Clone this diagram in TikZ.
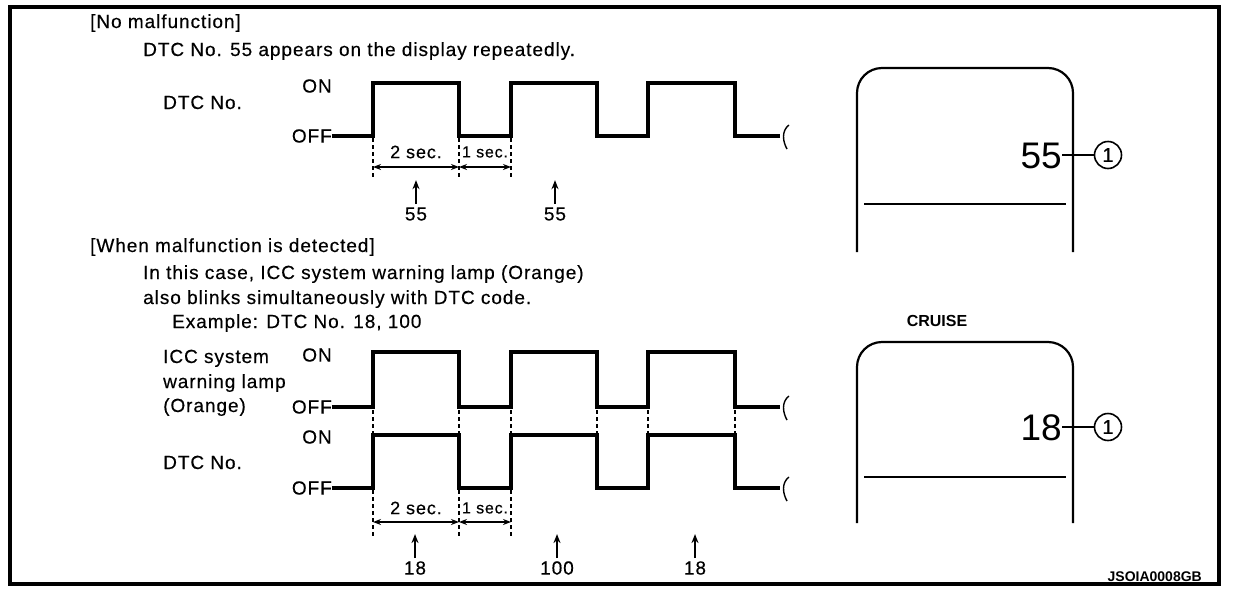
\documentclass[tikz,border=0pt]{standalone}
\usepackage{fontspec}
\setmainfont{Liberation Sans}
\newfontfamily\wsp[LetterSpace=5,FakeBold=0.4]{Liberation Sans}
\usetikzlibrary{arrows.meta}
\begin{document}
\begin{tikzpicture}[x=1pt,y=-1pt,
  wave/.style={line width=3.5pt, line join=miter},
  thinl/.style={line width=1.4pt},
  dsh/.style={line width=1.4pt, dash pattern=on 4pt off 3pt},
  dim/.style={line width=1.6pt, {Stealth[length=8pt,width=6pt]}-{Stealth[length=8pt,width=6pt]}},
  uparrow/.style={line width=1.7pt, -{Stealth[length=9pt,width=7pt]}},
  txt/.style={font=\wsp\fontsize{19}{22}\selectfont, inner sep=0pt, anchor=base west},
  lvl/.style={font=\wsp\fontsize{19}{22}\selectfont, inner sep=0pt},
  sec/.style={font=\wsp\fontsize{18}{20}\selectfont, inner sep=0pt},
  big/.style={font=\fontsize{37}{40}\selectfont, inner sep=0pt, anchor=east},
  callout/.style={circle, draw, line width=1.6pt, minimum size=27pt, inner sep=0pt, font=\wsp\fontsize{20}{20}\selectfont},
  screen/.style={line width=2.2pt, rounded corners=25pt},
  squig/.style={line width=1.4pt}
]
\useasboundingbox (0,0) rectangle (1248,592);
\draw[line width=4.5pt] (10,7) rectangle (1219,584);

% ---------- texts ----------
\node[txt] (t1) at (90,28) {[No malfunction]};
\node[txt] (t2) at (143,56) {DTC No. 55 appears on the display repeatedly.};
\node[txt] (t3) at (163,109) {DTC No.};
\node[txt] (t4) at (90,252) {[When malfunction is detected]};
\node[txt] (t5) at (143,279) {In this case, ICC system warning lamp (Orange)};
\node[txt] (t6) at (143,304) {also blinks simultaneously with DTC code.};
\node[txt] (t7) at (172,328) {Example: DTC No. 18, 100};
\node[txt] (t8) at (163,363) {ICC system};
\node[txt] (t9) at (163,388) {warning lamp};
\node[txt] (t10) at (163,412) {(Orange)};
\node[txt] (t11) at (163,469) {DTC No.};

% ---------- waveform 1 ----------
\node[lvl] (on1) at (317,86) {ON};
\node[lvl, anchor=east] (off1) at (332,136) {OFF};
\draw[wave] (off1.east) -- (373,136) -- (373,83) -- (459,83) -- (459,136) -- (511,136) -- (511,83) -- (597,83) -- (597,136) -- (648,136) -- (648,83) -- (735,83) -- (735,136) -- (780,136);
\draw[squig] (789,125) .. controls (781,131) and (783,142) .. (787,149);
\foreach \x in {373,459,511} \draw[dsh] (\x,138) -- (\x,178);
\coordinate (a1) at (373,167); \coordinate (a2) at (459,167); \coordinate (a3) at (511,167);
\draw[dim] (a1) -- (a2);
\draw[dim] (a2) -- (a3);
\node[sec] (s1) at (416,152) {2 sec.};
\node[sec, font=\wsp\fontsize{16}{18}\selectfont] (s2) at (485,152) {1 sec.};
\node[lvl] (n1) at (416,214) {55};
\node[lvl] (n2) at (555,214) {55};
\draw[uparrow] (n1.north) ++(0,-3) -- ++(0,-24);
\draw[uparrow] (n2.north) ++(0,-3) -- ++(0,-24);

% ---------- display 1 ----------
\draw[screen] (857,252) -- (857,68) -- (1073,68) -- (1073,252);
\draw[line width=1.4pt] (864,204) -- (1066,204);
\node[big] (d1) at (1062,156) {55};
\node[callout] (c1) at (1108,155) {1};
\draw[thinl] (d1.east) ++(0,-1) -- (c1.west);

% ---------- waveform 2 ----------
\node[lvl] (on2) at (317,355) {ON};
\node[lvl, anchor=east] (off2) at (332,407) {OFF};
\node[lvl] (on3) at (317,437) {ON};
\node[lvl, anchor=east] (off3) at (332,488) {OFF};
\draw[wave] (off2.east) -- (373,407) -- (373,352) -- (459,352) -- (459,407) -- (511,407) -- (511,352) -- (597,352) -- (597,407) -- (648,407) -- (648,352) -- (735,352) -- (735,407) -- (780,407);
\draw[wave] (off3.east) -- (373,488) -- (373,435) -- (459,435) -- (459,488) -- (511,488) -- (511,435) -- (597,435) -- (597,488) -- (648,488) -- (648,435) -- (735,435) -- (735,488) -- (780,488);
\draw[squig] (789,396) .. controls (781,402) and (783,413) .. (787,420);
\draw[squig] (789,477) .. controls (781,483) and (783,494) .. (787,501);
\foreach \x in {373,459,511,597,648,735} \draw[dsh] (\x,410) -- (\x,433);
\foreach \x in {373,459,511} \draw[dsh] (\x,490) -- (\x,536);
\coordinate (b1) at (373,522); \coordinate (b2) at (459,522); \coordinate (b3) at (511,522);
\draw[dim] (b1) -- (b2);
\draw[dim] (b2) -- (b3);
\node[sec] (s3) at (416,508) {2 sec.};
\node[sec, font=\wsp\fontsize{16}{18}\selectfont] (s4) at (485,508) {1 sec.};
\node[lvl] (m1) at (415,568) {18};
\node[lvl] (m2) at (557,568) {100};
\node[lvl] (m3) at (695,568) {18};
\draw[uparrow] (m1.north) ++(0,-3) -- ++(0,-24);
\draw[uparrow] (m2.north) ++(0,-3) -- ++(0,-24);
\draw[uparrow] (m3.north) ++(0,-3) -- ++(0,-24);

% ---------- display 2 ----------
\node[font=\bfseries\fontsize{16}{18}\selectfont, inner sep=0pt] (cr) at (937,321) {CRUISE};
\draw[screen] (857,523) -- (857,342) -- (1073,342) -- (1073,523);
\draw[line width=1.4pt] (864,477) -- (1066,477);
\node[big] (d2) at (1062,428) {18};
\node[callout] (c2) at (1108,427) {1};
\draw[thinl] (d2.east) ++(0,-1) -- (c2.west);

\node[font=\bfseries\fontsize{14}{16}\selectfont, inner sep=0pt, anchor=east] (code) at (1202,577) {JSOIA0008GB};
\end{tikzpicture}
\end{document}
